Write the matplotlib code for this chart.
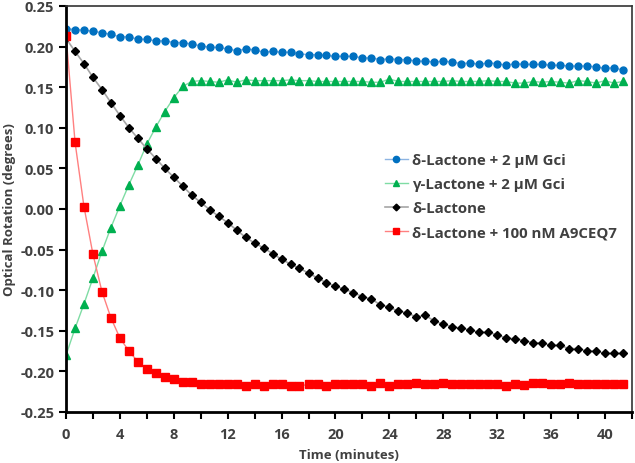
import matplotlib.pyplot as plt
from matplotlib.ticker import MultipleLocator, FormatStrFormatter

plt.rcParams['font.family'] = ['Open Sans', 'DejaVu Sans']

# time points (minutes), one reading every 40 s
time_min = [0.00, 0.67, 1.33, 2.00, 2.67, 3.33, 4.00, 4.67, 5.33, 6.00,
            6.67, 7.33, 8.00, 8.67, 9.33, 10.00, 10.67, 11.33, 12.00, 12.67,
            13.33, 14.00, 14.67, 15.33, 16.00, 16.67, 17.33, 18.00, 18.67, 19.33,
            20.00, 20.67, 21.33, 22.00, 22.67, 23.33, 24.00, 24.67, 25.33, 26.00,
            26.67, 27.33, 28.00, 28.67, 29.33, 30.00, 30.67, 31.33, 32.00, 32.67,
            33.33, 34.00, 34.67, 35.33, 36.00, 36.67, 37.33, 38.00, 38.67, 39.33,
            40.00, 40.67, 41.33]

delta_gci = [0.222, 0.221, 0.220, 0.219, 0.217, 0.215, 0.212, 0.212, 0.209, 0.209,
             0.207, 0.207, 0.205, 0.205, 0.203, 0.201, 0.199, 0.199, 0.197, 0.195,
             0.197, 0.196, 0.193, 0.194, 0.193, 0.193, 0.191, 0.190, 0.190, 0.189,
             0.188, 0.188, 0.188, 0.186, 0.186, 0.184, 0.185, 0.184, 0.184, 0.182,
             0.182, 0.181, 0.182, 0.181, 0.179, 0.180, 0.178, 0.180, 0.179, 0.177,
             0.179, 0.178, 0.178, 0.178, 0.177, 0.177, 0.176, 0.176, 0.176, 0.175,
             0.173, 0.174, 0.171]

gamma_gci = [-0.180, -0.147, -0.117, -0.085, -0.052, -0.023, 0.004, 0.030, 0.054, 0.080,
             0.101, 0.120, 0.137, 0.151, 0.157, 0.158, 0.157, 0.156, 0.159, 0.156,
             0.159, 0.158, 0.158, 0.158, 0.158, 0.159, 0.158, 0.158, 0.157, 0.157,
             0.157, 0.157, 0.157, 0.157, 0.156, 0.156, 0.160, 0.157, 0.157, 0.157,
             0.157, 0.157, 0.157, 0.158, 0.157, 0.157, 0.157, 0.158, 0.157, 0.157,
             0.155, 0.155, 0.157, 0.156, 0.157, 0.156, 0.155, 0.158, 0.157, 0.155,
             0.158, 0.155, 0.157]

delta = [0.210, 0.194, 0.179, 0.162, 0.147, 0.131, 0.115, 0.100, 0.087, 0.074,
         0.062, 0.050, 0.039, 0.028, 0.017, 0.008, -0.001, -0.009, -0.017, -0.026,
         -0.035, -0.042, -0.048, -0.055, -0.062, -0.068, -0.073, -0.079, -0.085, -0.091,
         -0.095, -0.099, -0.103, -0.108, -0.111, -0.118, -0.121, -0.126, -0.128, -0.133,
         -0.131, -0.138, -0.142, -0.145, -0.147, -0.149, -0.152, -0.152, -0.155, -0.159,
         -0.160, -0.162, -0.165, -0.165, -0.168, -0.168, -0.172, -0.172, -0.175, -0.175,
         -0.178, -0.178, -0.178]

delta_a9ceq7 = [0.213, 0.082, 0.003, -0.056, -0.102, -0.134, -0.159, -0.175, -0.188, -0.197,
                -0.202, -0.207, -0.210, -0.213, -0.213, -0.215, -0.215, -0.215, -0.216, -0.216,
                -0.218, -0.216, -0.218, -0.216, -0.216, -0.218, -0.218, -0.216, -0.216, -0.218,
                -0.216, -0.216, -0.215, -0.216, -0.218, -0.214, -0.218, -0.216, -0.216, -0.214,
                -0.216, -0.216, -0.214, -0.216, -0.216, -0.216, -0.216, -0.216, -0.216, -0.218,
                -0.216, -0.217, -0.214, -0.214, -0.216, -0.216, -0.214, -0.216, -0.215, -0.216,
                -0.215, -0.216, -0.216]

labels = ['δ-Lactone + 2 µM Gci', 'γ-Lactone + 2 µM Gci', 'δ-Lactone',
          'δ-Lactone + 100 nM A9CEQ7']

txt = '#404040'
fig = plt.figure(figsize=(6.35, 4.64), dpi=100)
ax = fig.add_axes([0.104, 0.110, 0.891, 0.875])

ax.plot(time_min, delta_gci, '-o', color='#8DB4E2', lw=1, ms=5,
        mfc='#0070C0', mec='#0070C0', label=labels[0])
ax.plot(time_min, gamma_gci, '-^', color='#7FDCA4', lw=1, ms=5.5,
        mfc='#00B050', mec='#00B050', label=labels[1])
ax.plot(time_min, delta, '-D', color='#A6A6A6', lw=1.2, ms=3.8,
        mfc='black', mec='black', label=labels[2])
ax.plot(time_min, delta_a9ceq7, '-s', color='#FF8080', lw=1, ms=5.5,
        mfc='#FF0000', mec='#FF0000', label=labels[3])

ax.set_xlim(0, 42)
ax.set_ylim(-0.25, 0.25)
ax.xaxis.set_major_locator(MultipleLocator(4))
ax.xaxis.set_minor_locator(MultipleLocator(2))
ax.yaxis.set_major_locator(MultipleLocator(0.05))
ax.yaxis.set_major_formatter(FormatStrFormatter('%.2f'))

ax.tick_params(axis='both', which='both', direction='out', length=5, width=1.5,
               colors='black', labelcolor=txt, labelsize=10.5)
for lab in ax.get_xticklabels() + ax.get_yticklabels():
    lab.set_fontweight('bold')
ax.tick_params(axis='x', pad=6)

for side in ['left', 'bottom']:
    ax.spines[side].set_linewidth(2)
for side in ['top', 'right']:
    ax.spines[side].set_linewidth(1.2)
    ax.spines[side].set_color('#333333')

ax.set_xlabel('Time (minutes)', fontsize=9.5, fontweight='bold', color=txt, labelpad=5)
ax.set_ylabel('Optical Rotation (degrees)', fontsize=9.5, fontweight='bold', color=txt, labelpad=3)

leg = ax.legend(loc='upper left', bbox_to_anchor=(0.54, 0.67), frameon=False,
                prop={'size': 10.8, 'weight': 'bold'}, handlelength=1.5,
                handletextpad=0.3, labelspacing=0.66, markerscale=0.9)
for t in leg.get_texts():
    t.set_color(txt)

fig.savefig('out.png', dpi=100)
